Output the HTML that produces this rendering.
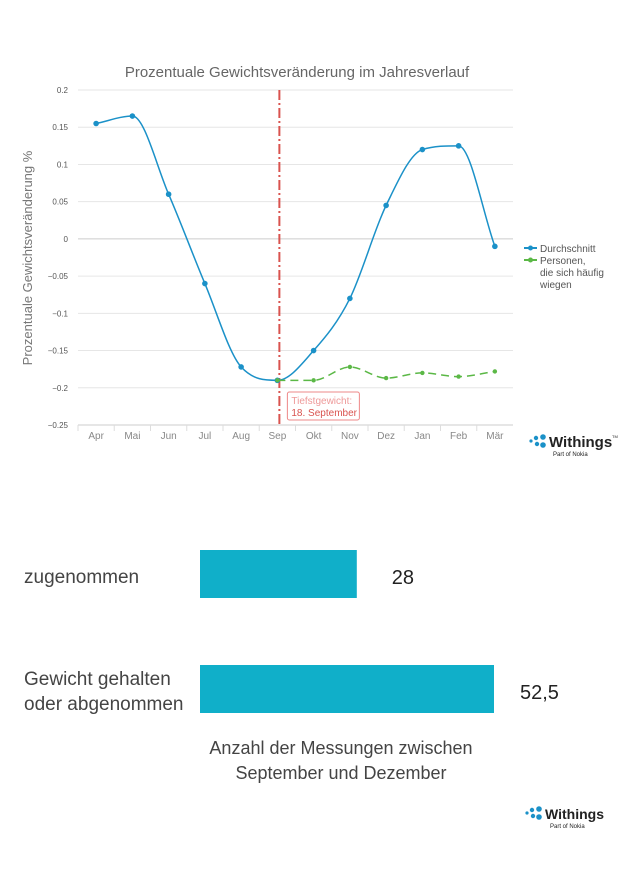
<!DOCTYPE html>
<html><head><meta charset="utf-8"><style>
body{margin:0;background:#fff;width:630px;height:891px;overflow:hidden;font-family:"Liberation Sans",sans-serif;}
svg{position:absolute;left:0;top:0}
</style></head><body>
<svg id="c" width="630" height="891">
<text x="297" y="77" text-anchor="middle" font-size="15" fill="#666">Prozentuale Gewichtsveränderung im Jahresverlauf</text>
<text transform="translate(32,258) rotate(-90)" text-anchor="middle" font-size="13" fill="#777">Prozentuale Gewichtsveränderung %</text>
<g id="grid"></g><g id="marks"></g>
<g>
<line x1="524" y1="248" x2="537" y2="248" stroke="#1b91c8" stroke-width="2"/><circle cx="530.5" cy="248" r="2.5" fill="#1b91c8"/>
<text x="540" y="252" font-size="10" fill="#555">Durchschnitt</text>
<line x1="524" y1="260" x2="537" y2="260" stroke="#5bb846" stroke-width="2"/><circle cx="530.5" cy="260" r="2.5" fill="#5bb846"/>
<text x="540" y="264" font-size="10" fill="#555">Personen,</text>
<text x="540" y="276" font-size="10" fill="#555">die sich häufig</text>
<text x="540" y="288" font-size="10" fill="#555">wiegen</text>
</g>
<g>
<circle cx="531" cy="441" r="1.6" fill="#1b91c8"/><circle cx="536" cy="438" r="2.2" fill="#1b91c8"/><circle cx="537" cy="444" r="2.2" fill="#1b91c8"/><circle cx="543" cy="437" r="2.8" fill="#1b91c8"/><circle cx="543" cy="445" r="2.8" fill="#1b91c8"/>
<text x="549" y="447" font-size="15" font-weight="bold" fill="#222">Withings</text><text x="612" y="438" font-size="4" fill="#222">TM</text>
<text x="553" y="456" font-size="6" fill="#222">Part of Nokia</text>
</g>
<g id="bars"></g>
<text x="24" y="583" font-size="19" fill="#444">zugenommen</text>
<text x="24" y="685" font-size="19" fill="#444">Gewicht gehalten</text>
<text x="24" y="710" font-size="19" fill="#444">oder abgenommen</text>
<text x="341" y="754" text-anchor="middle" font-size="18" fill="#444">Anzahl der Messungen zwischen</text>
<text x="341" y="779" text-anchor="middle" font-size="18" fill="#444">September und Dezember</text>
<g>
<circle cx="527" cy="813" r="1.6" fill="#1b91c8"/><circle cx="532" cy="810" r="2.2" fill="#1b91c8"/><circle cx="533" cy="816" r="2.2" fill="#1b91c8"/><circle cx="539" cy="809" r="2.8" fill="#1b91c8"/><circle cx="539" cy="817" r="2.8" fill="#1b91c8"/>
<text x="545" y="819" font-size="14" font-weight="bold" fill="#222">Withings</text>
<text x="550" y="828" font-size="6" fill="#222">Part of Nokia</text>
</g>
</svg>
<script>
const months=["Apr","Mai","Jun","Jul","Aug","Sep","Okt","Nov","Dez","Jan","Feb","Mär"];
const avgValues=[0.155,0.165,0.06,-0.06,-0.172,-0.19,-0.15,-0.08,0.045,0.12,0.125,-0.01];
const freqMonths=["Sep","Okt","Nov","Dez","Jan","Feb","Mär"];
const freqValues=[-0.19,-0.19,-0.172,-0.187,-0.18,-0.185,-0.178];
const yTicks=[0.2,0.15,0.1,0.05,0,-0.05,-0.1,-0.15,-0.2,-0.25];
const yTickLabels=["0.2","0.15","0.1","0.05","0","−0.05","−0.1","−0.15","−0.2","−0.25"];
const barCats=["zugenommen","Gewicht gehalten oder abgenommen"];
const barValues=[28,52.5];
const barLabels=["28","52,5"];
const NS="http://www.w3.org/2000/svg";
const L=78,R=513,T=90,B=425,step=(R-L)/months.length;
const x=m=>L+step*(months.indexOf(m)+0.5);
const y=v=>T+(0.2-v)/0.45*(B-T);
function el(t,a,p){const e=document.createElementNS(NS,t);for(const k in a)e.setAttribute(k,a[k]);p.appendChild(e);return e;}
const grid=document.getElementById('grid'),marks=document.getElementById('marks');
yTicks.forEach((v,i)=>{
 const l=el('line',{x1:L,x2:R,y1:y(v),y2:y(v),stroke:v===0?'#ccc':'#e6e6e6','stroke-width':1},grid);
 
 
 const t=el('text',{x:68,y:y(v)+3,'text-anchor':'end','font-size':8,fill:'#555'},grid);t.textContent=yTickLabels[i];
 
 
});
el('line',{x1:L,x2:R,y1:B,y2:B,stroke:'#ccc'},grid);
months.forEach((m,i)=>{
 el('line',{x1:L+step*i,x2:L+step*i,y1:B,y2:B+6,stroke:'#ddd'},grid);
 const t=el('text',{x:x(m),y:B+14,'text-anchor':'middle','font-size':10,fill:'#888'},grid);t.textContent=m;
 
 
});
function monotone(pts){
 const n=pts.length,d=[],m=[];
 for(let i=0;i<n-1;i++)d.push((pts[i+1][1]-pts[i][1])/(pts[i+1][0]-pts[i][0]));
 for(let i=0;i<n;i++){
  if(i===0)m.push(d[0]);else if(i===n-1)m.push(d[n-2]);
  else m.push(d[i-1]*d[i]<=0?0:(d[i-1]+d[i])/2);
 }
 for(let i=0;i<n-1;i++){
  if(d[i]===0){m[i]=0;m[i+1]=0;continue;}
  const a=m[i]/d[i],b=m[i+1]/d[i],s=a*a+b*b;
  if(s>9){const t=3/Math.sqrt(s);m[i]=t*a*d[i];m[i+1]=t*b*d[i];}
 }
 let p=`M${pts[0][0]},${pts[0][1]}`;
 for(let i=0;i<n-1;i++){const h=(pts[i+1][0]-pts[i][0])/3;
  p+=` C${pts[i][0]+h},${pts[i][1]+m[i]*h} ${pts[i+1][0]-h},${pts[i+1][1]-m[i+1]*h} ${pts[i+1][0]},${pts[i+1][1]}`;}
 return p;
}
const sepX=x("Sep")+2;
const rl=el('line',{x1:sepX,x2:sepX,y1:T,y2:B,stroke:'#d9534f','stroke-width':2,'stroke-dasharray':'10,3,2,3'},marks);


const ap=months.map((m,i)=>[x(m),y(avgValues[i])]);
const p1=el('path',{d:monotone(ap),fill:'none',stroke:'#1b91c8','stroke-width':1.5},marks);


ap.forEach(p=>{const c=el('circle',{cx:p[0],cy:p[1],r:2.8,fill:'#1b91c8'},marks);
 
 });
const gp=freqMonths.map((m,i)=>[x(m),y(freqValues[i])]);
const p2=el('path',{d:monotone(gp),fill:'none',stroke:'#5bb846','stroke-width':1.5,'stroke-dasharray':'8,5'},marks);


gp.forEach(p=>{const c=el('circle',{cx:p[0],cy:p[1],r:2.2,fill:'#5bb846'},marks);
 
 });
const box=el('rect',{x:sepX+8,y:392,width:72,height:28,rx:2,fill:'#fff',stroke:'#e88',"stroke-width":1},marks);


const t1=el('text',{x:sepX+12,y:404,'font-size':10,fill:'#e99'},marks);t1.textContent="Tiefstgewicht:";
const t2=el('text',{x:sepX+12,y:416,'font-size':10,fill:'#d9534f'},marks);t2.textContent="18. September";
const bars=document.getElementById('bars');const bx=200,bs=5.6,bTops=[550,665];
barCats.forEach((c,i)=>{
 const r=el('rect',{x:bx,y:bTops[i],width:barValues[i]*bs,height:48,fill:'#10afc9'},bars);
 
 
 const t=el('text',{x:bx+barValues[i]*bs+(i?26:35),y:bTops[i]+34,'font-size':20,fill:'#222'},bars);t.textContent=barLabels[i];
 
 
});
</script>
</body></html>
